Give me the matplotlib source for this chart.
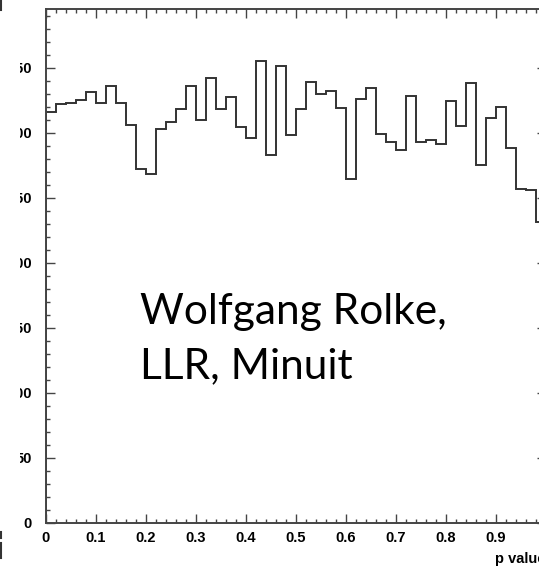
import numpy as np
import matplotlib.pyplot as plt
from matplotlib.patches import Rectangle
from matplotlib.lines import Line2D
from matplotlib.ticker import MultipleLocator

# p-value histogram, 50 bins over [0, 1]
bin_edges = np.linspace(0.0, 1.0, 51)
counts = [316, 322, 323, 325, 331, 323, 336, 323, 306, 272,
          268, 303, 308, 318, 336, 310, 342, 318, 327, 304,
          296, 355, 283, 351, 298, 318, 339, 330, 332, 319,
          264, 326, 334, 299, 293, 287, 328, 293, 294, 291,
          324, 305, 338, 275, 311, 320, 288, 257, 256, 231]
xticks = [0, 0.1, 0.2, 0.3, 0.4, 0.5, 0.6, 0.7, 0.8, 0.9, 1.0]
xticklabels = ['0', '0.1', '0.2', '0.3', '0.4', '0.5', '0.6', '0.7', '0.8', '0.9', '1']
yticks = [0, 50, 100, 150, 200, 250, 300, 350]

W, H = 539, 569
fig = plt.figure(figsize=(W / 100, H / 100), dpi=100)
ax = fig.add_axes([46 / W, 46 / H, 500 / W, 514 / H])

ax.stairs(counts, bin_edges, color='#333333', linewidth=1.4)
ax.set_xlim(0, 1)
ax.set_ylim(0, 395)

ax.set_xticks(xticks)
ax.set_xticklabels(xticklabels)
ax.set_yticks(yticks)
ax.xaxis.set_minor_locator(MultipleLocator(0.02))
ax.yaxis.set_minor_locator(MultipleLocator(10))
ax.tick_params(which='both', direction='in', top=True, right=True,
               color='#444444', width=1.0)
ax.tick_params(which='major', length=6.2)
ax.tick_params(which='minor', length=2.9)
ax.tick_params(axis='x', pad=6.0)
ax.tick_params(axis='y', pad=10.2)
for lab in ax.get_xticklabels() + ax.get_yticklabels():
    lab.set_fontfamily('Liberation Sans')
    lab.set_fontweight('bold')
    lab.set_fontsize(10.5)
for s in ax.spines.values():
    s.set_color('#444444')
    s.set_linewidth(1.4)

ax.text(1.0, -0.07, 'p value', transform=ax.transAxes, ha='right', va='center',
        fontfamily='Liberation Sans', fontweight='bold', fontsize=10.5)

fig.text(140 / W, 1 - 339 / H, 'Wolfgang Rolke,\nLLR, Minuit',
         ha='left', va='center', fontfamily='Lato', fontsize=30.5, linespacing=1.5)

# strip along the left edge where the labels are cut
fig.add_artist(Rectangle((0, 0), 20 / W, 1, transform=fig.transFigure,
                         facecolor='white', edgecolor='none', zorder=10))
for y0, y1 in [(0, 10), (532, 538), (543, 558)]:
    fig.add_artist(Line2D([1 / W, 1 / W], [1 - y0 / H, 1 - y1 / H],
                          transform=fig.transFigure, color='#333333',
                          linewidth=1.5, zorder=11))

fig.savefig('out.png', dpi=100)
